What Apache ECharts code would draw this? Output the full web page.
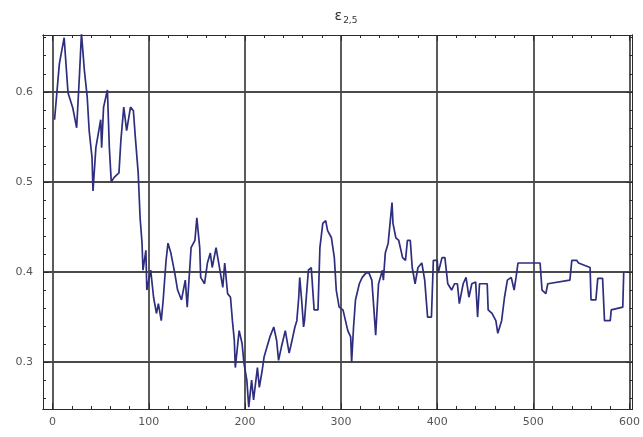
<!DOCTYPE html>
<html>
<head>
<meta charset="utf-8">
<script src="https://cdn.jsdelivr.net/npm/echarts@6/dist/echarts.min.js"></script>
<style>html,body{margin:0;padding:0;background:#fff;}#c{width:643px;height:437px;}</style>
</head>
<body>
<div id="c"></div>
<script>
var titleMain = 'ε';
var titleSub = '2,5';
var xTicks = [0, 100, 200, 300, 400, 500, 600];
var xMinorTicks = [0,20,40,60,80,100,120,140,160,180,200,220,240,260,280,300,320,340,360,380,400,420,440,460,480,500,520,540,560,580,600];
var yTicks = [0.3, 0.4, 0.5, 0.6];
var yMinorTicks = [0.26,0.28,0.30,0.32,0.34,0.36,0.38,0.40,0.42,0.44,0.46,0.48,0.50,0.52,0.54,0.56,0.58,0.60,0.62,0.64,0.66];

var xs = [2,7,12,16,21,25,28,30,33,36,38,41,42,45,50,51,53,57,59,61,64,69,71,74,77,81,84,86,89,91,93,94,97,98,102,105,108,110,113,115,118,120,123,127,130,134,138,140,143,144,148,150,153,154,158,161,164,166,170,174,177,179,182,185,187,189,190,194,197,199,202,204,207,209,213,215,218,220,223,226,230,233,235,238,242,246,249,252,254,256,257,259,261,262,266,269,272,276,278,281,284,286,290,293,295,298,302,307,310,311,313,315,319,322,326,329,332,334,336,338,339,343,344,346,349,353,354,357,360,364,367,369,372,374,377,380,384,387,390,394,396,400,401,405,408,411,415,418,421,423,427,430,433,436,440,442,444,452,453,457,461,463,467,470,473,477,480,482,484,507,509,513,515,538,540,545,547,559,560,565,567,572,574,580,581,593,594];
var ys = [0.569,0.631,0.66,0.599,0.582,0.56,0.62,0.665,0.624,0.594,0.557,0.527,0.49,0.538,0.569,0.538,0.583,0.602,0.538,0.50,0.505,0.51,0.546,0.583,0.557,0.583,0.579,0.55,0.51,0.46,0.432,0.402,0.424,0.38,0.402,0.372,0.354,0.365,0.346,0.369,0.413,0.432,0.421,0.399,0.38,0.369,0.391,0.361,0.41,0.427,0.435,0.46,0.427,0.394,0.387,0.41,0.421,0.405,0.427,0.402,0.383,0.41,0.376,0.372,0.346,0.324,0.294,0.335,0.321,0.299,0.28,0.25,0.28,0.258,0.294,0.272,0.291,0.306,0.317,0.328,0.339,0.324,0.302,0.317,0.335,0.31,0.324,0.339,0.346,0.372,0.394,0.369,0.339,0.346,0.402,0.405,0.358,0.358,0.427,0.454,0.457,0.446,0.438,0.416,0.38,0.361,0.358,0.335,0.328,0.30,0.339,0.369,0.387,0.394,0.399,0.399,0.391,0.361,0.33,0.369,0.387,0.402,0.391,0.421,0.432,0.477,0.454,0.438,0.435,0.416,0.413,0.435,0.435,0.405,0.387,0.405,0.41,0.391,0.35,0.35,0.413,0.413,0.399,0.416,0.416,0.387,0.38,0.387,0.387,0.365,0.387,0.394,0.372,0.387,0.389,0.35,0.387,0.387,0.358,0.354,0.346,0.332,0.346,0.372,0.391,0.394,0.38,0.394,0.41,0.41,0.38,0.376,0.387,0.391,0.413,0.413,0.41,0.405,0.369,0.369,0.393,0.393,0.346,0.346,0.358,0.361,0.40];

var data = xs.map(function (x, i) { return [x, ys[i]]; });

var X_MIN = -10, X_MAX = 603, Y_MIN = 0.248, Y_MAX = 0.663;
var frameColor = '#2a2a2a';
var gridColor = '#4a4a4a';
var labelStyle = { color: '#555', fontSize: 11, fontFamily: 'DejaVu Sans' };

function xAxisDef(pos, major, show) {
  return {
    type: 'value', position: pos, min: X_MIN, max: X_MAX,
    axisLine: { show: true, onZero: false, lineStyle: { color: frameColor, width: 1 } },
    axisTick: { show: true, inside: true, length: major ? 6 : 3, customValues: major ? xTicks : xMinorTicks, lineStyle: { color: frameColor } },
    axisLabel: Object.assign({ show: show, customValues: xTicks, margin: 8 }, labelStyle),
    splitLine: { show: major && pos === 'bottom', lineStyle: { color: gridColor, width: 1.8 } }
  };
}
function yAxisDef(pos, major, show) {
  return {
    type: 'value', position: pos, min: Y_MIN, max: Y_MAX,
    axisLine: { show: true, onZero: false, lineStyle: { color: frameColor, width: 1 } },
    axisTick: { show: true, inside: true, length: major ? 6 : 3, customValues: major ? yTicks : yMinorTicks, lineStyle: { color: frameColor } },
    axisLabel: Object.assign({ show: show, customValues: yTicks, margin: 10, formatter: function (v) { return v.toFixed(1); } }, labelStyle),
    splitLine: { show: major && pos === 'left', lineStyle: { color: gridColor, width: 1.8 } }
  };
}

var chart = echarts.init(document.getElementById('c'), null, { renderer: 'canvas' });
chart.setOption({
  backgroundColor: '#ffffff',
  animation: false,
  title: {
    text: '{a|' + titleMain + '}{b|' + titleSub + '}',
    left: 341, top: 3, textAlign: 'center',
    textStyle: {
      fontWeight: 'normal',
      rich: {
        a: { fontSize: 14, color: '#333', fontFamily: 'DejaVu Sans', fontWeight: 'normal' },
        b: { fontSize: 9, color: '#333', fontFamily: 'DejaVu Sans', fontWeight: 'normal', padding: [8, 0, 0, 1] }
      }
    }
  },
  grid: { left: 43, right: 3, top: 35, bottom: 28, containLabel: false },
  xAxis: [xAxisDef('bottom', true, true), xAxisDef('bottom', false, false), xAxisDef('top', true, false), xAxisDef('top', false, false)],
  yAxis: [yAxisDef('left', true, true), yAxisDef('left', false, false), yAxisDef('right', true, false), yAxisDef('right', false, false)],
  series: [{
    type: 'line', data: data, xAxisIndex: 0, yAxisIndex: 0,
    showSymbol: false, symbol: 'none', clip: true,
    lineStyle: { color: '#2e2e7e', width: 1.7 }
  }]
});
</script>
</body>
</html>
